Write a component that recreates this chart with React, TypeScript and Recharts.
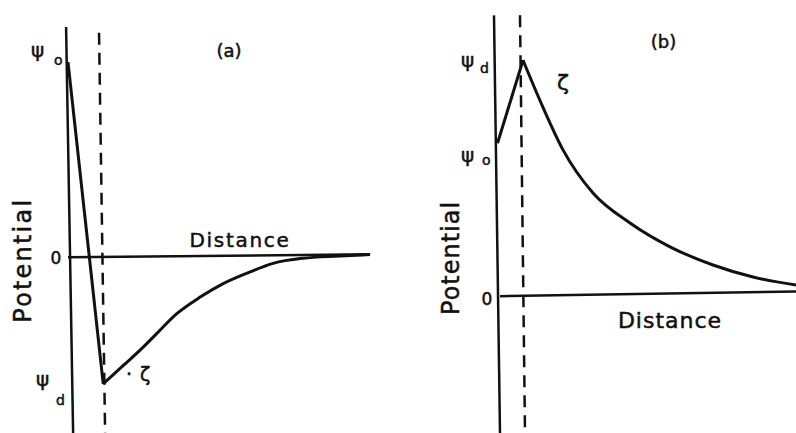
import React from 'react';
import { LineChart, Line, XAxis, YAxis, ReferenceLine, ReferenceDot } from 'recharts';

const FONT = '"DejaVu Sans", sans-serif';
const INK = '#111111';

// ---------------- Panel (a) ----------------
const aTickValues = [-0.648, 0, 1.0];
const aTickLabels = ['ψd', '0', 'ψo'];
const aDrop = [
  { x: 0, y: 1.0 },
  { x: 1.1, y: -0.648 },
];
const aDecay = [
  { x: 1.1, y: -0.648 },
  { x: 1.73, y: -0.554 },
  { x: 2.35, y: -0.46 },
  { x: 2.77, y: -0.391 },
  { x: 3.4, y: -0.289 },
  { x: 4.13, y: -0.204 },
  { x: 4.85, y: -0.135 },
  { x: 5.69, y: -0.075 },
  { x: 6.41, y: -0.031 },
  { x: 7.34, y: -0.005 },
  { x: 8.5, y: 0.006 },
  { x: 9.44, y: 0.014 },
];
const aAxis = [{ x: -0.06, y: 1.18 }, { x: 0.16, y: -0.9 }];
const aDashed = [{ x: 0.97, y: 1.15 }, { x: 1.16, y: -0.9 }];
const aZero = [{ x: 0, y: 0 }, { x: 9.44, y: 0.015 }];

// ---------------- Panel (b) ----------------
const bTickValues = [0, 0.648, 1.0];
const bTickLabels = ['0', 'ψo', 'ψd'];
const bRise = [
  { x: 0, y: 0.648 },
  { x: 1.02, y: 1.0 },
];
const bDecay = [
  { x: 1.02, y: 1.0 },
  { x: 1.82, y: 0.8 },
  { x: 2.62, y: 0.62 },
  { x: 3.82, y: 0.437 },
  { x: 5.3, y: 0.31 },
  { x: 6.9, y: 0.209 },
  { x: 8.62, y: 0.132 },
  { x: 10.22, y: 0.081 },
  { x: 11.94, y: 0.047 },
];
const bAxis = [{ x: -0.14, y: 1.19 }, { x: 0.1, y: -0.58 }];
const bDashed = [{ x: 0.9, y: 1.19 }, { x: 1.1, y: -0.58 }];
const bZero = [{ x: 0.1, y: 0 }, { x: 11.94, y: 0.02 }];

type TickSpec = {
  main: string;
  sub?: string;
  x: number;
  dy: number;
  subX?: number;
  subDy?: number;
  size: number;
  anchor?: 'start' | 'middle' | 'end';
};

const makeTick = (values: number[], labels: string[], specs: Record<string, TickSpec>) => (props: any) => {
  const { y, payload } = props;
  const idx = values.findIndex((v) => Math.abs(v - payload.value) < 1e-9);
  const key = labels[idx];
  const s = specs[key];
  if (!s) return null;
  return (
    <g>
      <text x={s.x} y={y + s.dy} fontSize={s.size} fontFamily={FONT} fill={INK} stroke={INK} strokeWidth={0.5} textAnchor={s.anchor || 'start'}>
        {s.main}
      </text>
      {s.sub ? (
        <text x={s.subX} y={y + (s.subDy || 0)} fontSize={14} fontFamily={FONT} fill={INK} stroke={INK} strokeWidth={0.5}>
          {s.sub}
        </text>
      ) : null}
    </g>
  );
};

const aTick = makeTick(aTickValues, aTickLabels, {
  'ψo': { main: 'ψ', sub: 'o', x: 31, dy: -5, subX: 54, subDy: 3, size: 20 },
  '0': { main: '0', x: 56, dy: 7, size: 17, anchor: 'middle' },
  'ψd': { main: 'ψ', sub: 'd', x: 36, dy: 2, subX: 56, subDy: 21, size: 20 },
});
const bTick = makeTick(bTickValues, bTickLabels, {
  'ψd': { main: 'ψ', sub: 'd', x: 41, dy: 7, subX: 60, subDy: 13, size: 20 },
  'ψo': { main: 'ψ', sub: 'o', x: 41, dy: 19, subX: 62, subDy: 22, size: 20 },
  '0': { main: '0', x: 67, dy: 9, size: 17, anchor: 'middle' },
});

type LabelOpts = { size: number; anchor?: 'start' | 'middle' | 'end'; ls?: number; rotate?: boolean };
const textLabel = (text: string, o: LabelOpts) => (p: any) => {
  const vb = p.viewBox || {};
  const x = (vb.x || 0) + (vb.width || 0) / 2;
  const y = (vb.y || 0) + (vb.height || 0) / 2;
  return (
    <text
      x={x}
      y={y}
      fontSize={o.size}
      fontFamily={FONT}
      fill={INK}
      stroke={INK}
      strokeWidth={0.5}
      letterSpacing={o.ls || 0}
      textAnchor={o.anchor || 'middle'}
      dominantBaseline={o.rotate ? 'central' : undefined}
      transform={o.rotate ? `rotate(-90 ${x} ${y})` : undefined}
    >
      {text}
    </text>
  );
};

const dotProps = { r: 0, fill: 'none', stroke: 'none', ifOverflow: 'visible' as const };

export default function App() {
  return (
    <div style={{ position: 'absolute', left: 0, top: 0, width: 796, height: 433, background: '#ffffff', overflow: 'hidden' }}>
      <div style={{ position: 'absolute', left: 0, top: 0 }}>
        <LineChart width={420} height={433} margin={{ top: 23, right: 48, bottom: 0, left: 0 }}>
          <XAxis dataKey="x" type="number" domain={[-0.25, 9.5]} hide allowDataOverflow />
          <YAxis
            type="number"
            domain={[-0.9, 1.2]}
            ticks={aTickValues}
            interval={0}
            width={60}
            axisLine={false}
            tickLine={false}
            tick={aTick}
            allowDataOverflow
          />
          <ReferenceLine segment={aAxis} stroke={INK} strokeWidth={2.5} ifOverflow="visible" />
          <ReferenceLine segment={aDashed} stroke={INK} strokeWidth={2.5} strokeDasharray="12 8" ifOverflow="visible" />
          <ReferenceLine segment={aZero} stroke={INK} strokeWidth={2.5} ifOverflow="visible" />
          <Line data={aDrop} dataKey="y" type="linear" stroke={INK} strokeWidth={3} dot={false} activeDot={false} isAnimationActive={false} />
          <Line data={aDecay} dataKey="y" type="monotone" stroke={INK} strokeWidth={3} dot={false} activeDot={false} isAnimationActive={false} />
          <ReferenceDot x={5.375} y={0.051} {...dotProps} label={textLabel('Distance', { size: 20, ls: 1.7 })} />
          <ReferenceDot x={5.03} y={1.026} {...dotProps} label={textLabel('(a)', { size: 18 })} />
          <ReferenceDot x={1.81} y={-0.636} {...dotProps} label={textLabel('·', { size: 19, anchor: 'start' })} />
          <ReferenceDot x={2.25} y={-0.636} {...dotProps} label={textLabel('ζ', { size: 19, anchor: 'start' })} />
          <ReferenceDot x={-1.41} y={-0.015} {...dotProps} label={textLabel('Potential', { size: 24, ls: 2.2, rotate: true })} />
        </LineChart>
      </div>
      <div style={{ position: 'absolute', left: 420, top: 0 }}>
        <LineChart width={376} height={433} margin={{ top: 13, right: 0, bottom: 0, left: 0 }}>
          <XAxis dataKey="x" type="number" domain={[-0.3, 11.94]} hide allowDataOverflow />
          <YAxis
            type="number"
            domain={[-0.58, 1.2]}
            ticks={bTickValues}
            interval={0}
            width={70}
            axisLine={false}
            tickLine={false}
            tick={bTick}
            allowDataOverflow
          />
          <ReferenceLine segment={bAxis} stroke={INK} strokeWidth={2.5} ifOverflow="visible" />
          <ReferenceLine segment={bDashed} stroke={INK} strokeWidth={2.5} strokeDasharray="12 8" ifOverflow="visible" />
          <ReferenceLine segment={bZero} stroke={INK} strokeWidth={2.5} ifOverflow="visible" />
          <Line data={bRise} dataKey="y" type="linear" stroke={INK} strokeWidth={3} dot={false} activeDot={false} isAnimationActive={false} />
          <Line data={bDecay} dataKey="y" type="monotone" stroke={INK} strokeWidth={3} dot={false} activeDot={false} isAnimationActive={false} />
          <ReferenceDot x={6.9} y={-0.135} {...dotProps} label={textLabel('Distance', { size: 22, ls: 1 })} />
          <ReferenceDot x={6.64} y={1.052} {...dotProps} label={textLabel('(b)', { size: 18 })} />
          <ReferenceDot x={2.38} y={0.874} {...dotProps} label={textLabel('ζ', { size: 22, anchor: 'start' })} />
          <ReferenceDot x={-1.86} y={0.162} {...dotProps} label={textLabel('Potential', { size: 24, ls: 1, rotate: true })} />
        </LineChart>
      </div>
    </div>
  );
}
